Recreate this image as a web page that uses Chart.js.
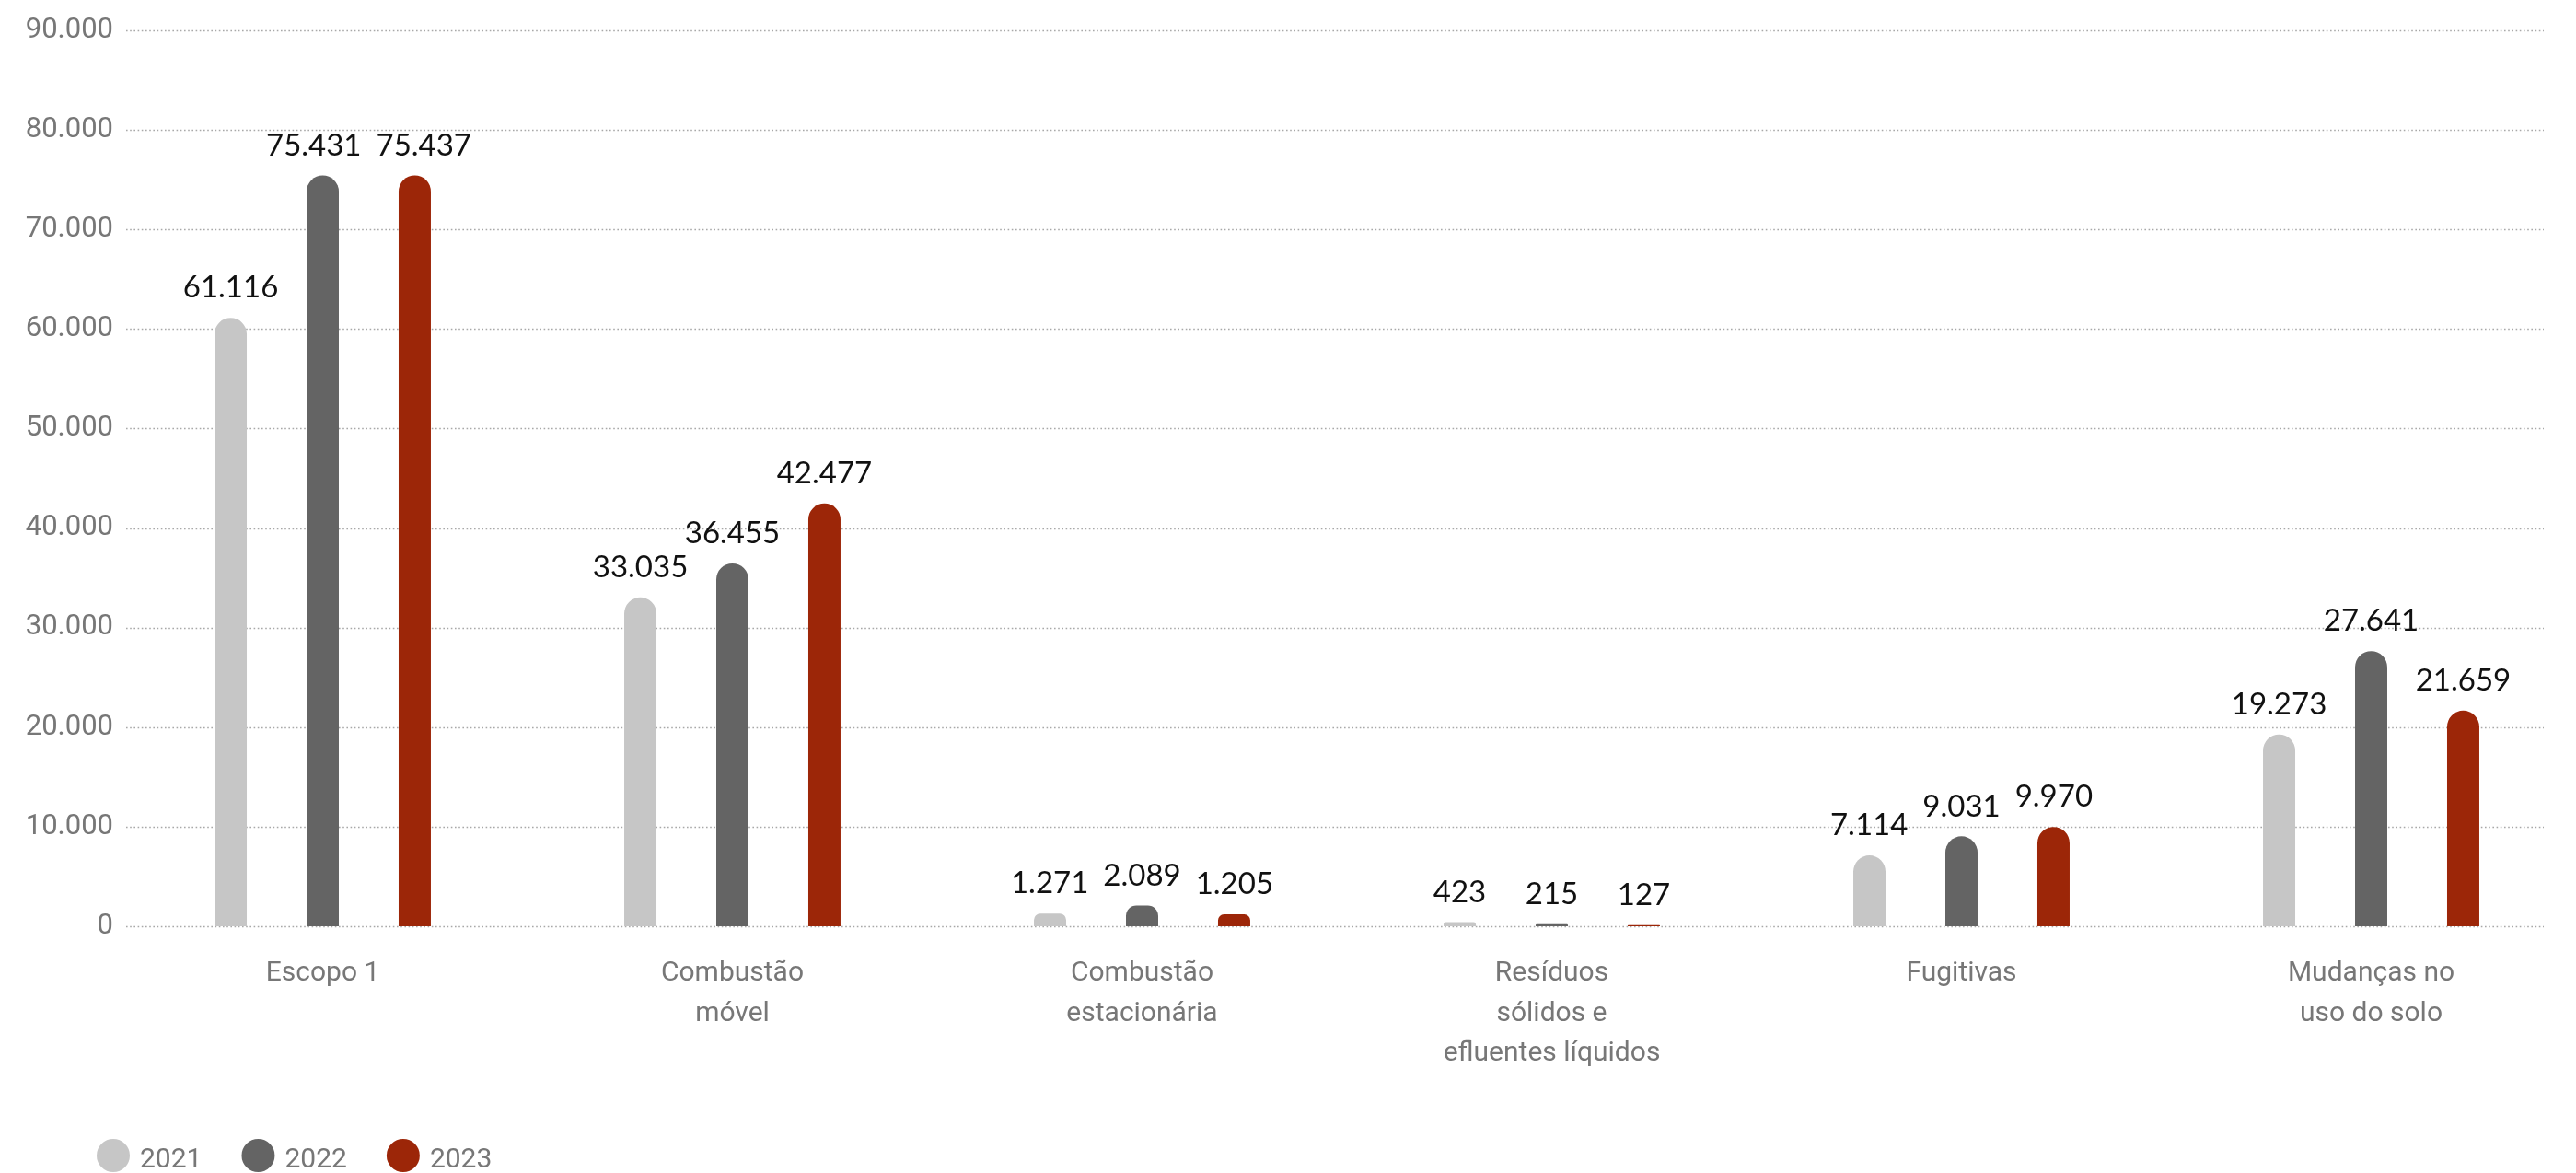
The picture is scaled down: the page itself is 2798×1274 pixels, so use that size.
<!DOCTYPE html>
<html>
<head>
<meta charset="utf-8">
<script src="https://cdn.jsdelivr.net/npm/chart.js@4/dist/chart.umd.min.js"></script>
<style>
  html, body { margin: 0; padding: 0; background: #ffffff; }
  #wrap { width: 2798px; height: 1274px; position: relative; }
</style>
</head>
<body>
<div id="wrap"><canvas id="c"></canvas></div>
<script>
// ---- Data ----
const categories = [
  ['Escopo 1'],
  ['Combustão', 'móvel'],
  ['Combustão', 'estacionária'],
  ['Resíduos', 'sólidos e', 'efluentes líquidos'],
  ['Fugitivas'],
  ['Mudanças no', 'uso do solo']
];
const seriesNames = ['2021', '2022', '2023'];
const values2021 = [61116, 33035, 1271, 423, 7114, 19273];
const values2022 = [75431, 36455, 2089, 215, 9031, 27641];
const values2023 = [75437, 42477, 1205, 127, 9970, 21659];
const yTickMin = 0;
const yTickMax = 90000;
const yTickStep = 10000;

// ---- Styles ----
const seriesColors = ['#C6C6C6', '#646464', '#9C2608'];
const axisGray = '#777777';

function fmt(n) {
  return String(Math.round(n)).replace(/\B(?=(\d{3})+(?!\d))/g, '.');
}

const gridPlugin = {
  id: 'dottedGrid',
  beforeDatasetsDraw(chart) {
    const ctx = chart.ctx;
    const y = chart.scales.y;
    ctx.save();
    ctx.strokeStyle = '#a8a8a8';
    ctx.lineWidth = 1.4;
    ctx.setLineDash([1.6, 2.6]);
    y.ticks.forEach(t => {
      const py = Math.round(y.getPixelForValue(t.value)) + 0.5;
      ctx.beginPath();
      ctx.moveTo(137, py);
      ctx.lineTo(2763, py);
      ctx.stroke();
    });
    ctx.restore();
  }
};

const labelPlugin = {
  id: 'valueLabels',
  afterDatasetsDraw(chart) {
    const ctx = chart.ctx;
    ctx.save();
    ctx.font = '400 33px Lato, "Open Sans", sans-serif';
    ctx.fillStyle = '#111111';
    ctx.textAlign = 'center';
    ctx.textBaseline = 'bottom';
    const textH = 26;
    const minGap = 16;
    const nCat = chart.data.labels.length;
    for (let i = 0; i < nCat; i++) {
      const items = chart.data.datasets.map((ds, di) => {
        const bar = chart.getDatasetMeta(di).data[i];
        const text = fmt(ds.data[i]);
        return { text, x: bar.x, y: bar.y - 16, w: ctx.measureText(text).width };
      });
      // push apart labels that would collide
      for (let pass = 0; pass < 4; pass++) {
        for (let k = 0; k < items.length - 1; k++) {
          const a = items[k], b = items[k + 1];
          const vOverlap = Math.abs(a.y - b.y) < textH + 4;
          const gap = (b.x - b.w / 2) - (a.x + a.w / 2);
          if (vOverlap && gap < minGap) {
            const d = (minGap - gap) / 2;
            a.x -= d; b.x += d;
          }
        }
      }
      items.forEach(it => ctx.fillText(it.text, it.x, it.y));
    }
    ctx.restore();
  }
};

const legendPlugin = {
  id: 'circleLegend',
  afterDraw(chart) {
    const ctx = chart.ctx;
    ctx.save();
    ctx.font = '400 30px Roboto, sans-serif';
    ctx.textBaseline = 'alphabetic';
    ctx.textAlign = 'left';
    let x = 105;
    const cy = 1255;
    const r = 18;
    chart.data.datasets.forEach(ds => {
      ctx.fillStyle = ds.backgroundColor;
      ctx.beginPath();
      ctx.arc(x + r, cy, r, 0, Math.PI * 2);
      ctx.fill();
      ctx.fillStyle = axisGray;
      const tx = x + 2 * r + 11;
      ctx.fillText(ds.label, tx, cy + 13);
      x = tx + ctx.measureText(ds.label).width + 43;
    });
    ctx.restore();
  }
};

const datasets = [values2021, values2022, values2023].map((vals, i) => ({
  label: seriesNames[i],
  data: vals,
  backgroundColor: seriesColors[i],
  borderWidth: 0,
  borderSkipped: 'start',
  borderRadius: { topLeft: 17.5, topRight: 17.5, bottomLeft: 0, bottomRight: 0 },
  categoryPercentage: 0.674,
  barPercentage: 0.35
}));

new Chart(document.getElementById('c'), {
  type: 'bar',
  data: { labels: categories, datasets },
  options: {
    responsive: true,
    maintainAspectRatio: false,
    animation: false,
    layout: { padding: { top: 33, left: 0, right: 0, bottom: 0 } },
    plugins: {
      legend: { display: false },
      tooltip: { enabled: false }
    },
    scales: {
      x: {
        offset: true,
        grid: { display: false, drawTicks: false },
        border: { display: false },
        ticks: {
          color: axisGray,
          font: { family: 'Roboto, sans-serif', size: 30, lineHeight: 1.45 },
          padding: 30,
          maxRotation: 0,
          autoSkip: false
        },
        afterFit(scale) { scale.height = 268; }
      },
      y: {
        min: yTickMin,
        max: yTickMax,
        grid: { display: false, drawTicks: false },
        border: { display: false },
        ticks: {
          stepSize: yTickStep,
          color: axisGray,
          font: { family: 'Roboto, sans-serif', size: 31 },
          padding: 5,
          callback: v => fmt(v)
        },
        afterFit(scale) { scale.width = 128; }
      }
    }
  },
  plugins: [gridPlugin, labelPlugin, legendPlugin]
});
</script>
</body>
</html>
